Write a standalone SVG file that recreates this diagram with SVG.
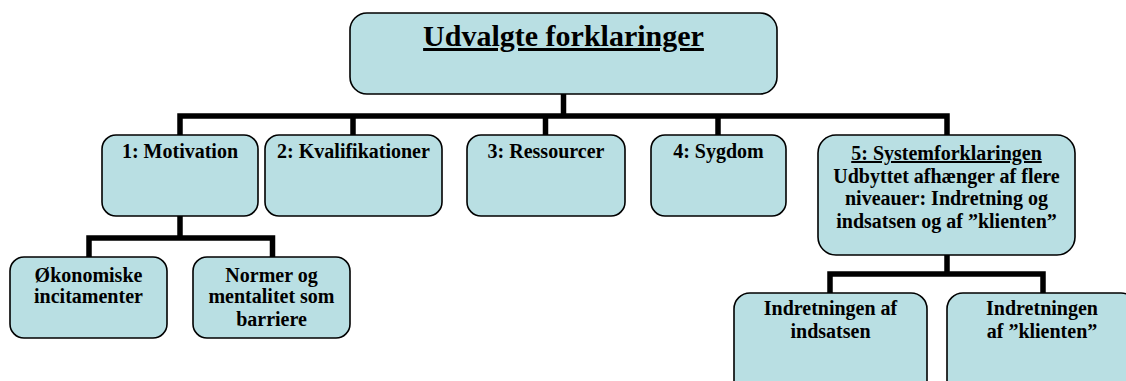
<svg xmlns="http://www.w3.org/2000/svg" width="1126" height="381" viewBox="0 0 1126 381">
<style>
.box{fill:#B9DFE3;stroke:#000;stroke-width:1.6}
.t{font-family:"Liberation Serif","Times New Roman",serif;font-weight:bold;font-size:20px;fill:#000;text-anchor:middle}
.big{font-size:30px}
.u{text-decoration:underline}
.c{fill:none;stroke:#000;stroke-width:5.5;stroke-linejoin:miter;stroke-linecap:butt}
</style>
<rect width="1126" height="381" fill="#fff"/>
<g id="connectors">
<path class="c" d="M563.5,94 V116"/>
<path class="c" d="M180,135 V116 H947 V135"/>
<path class="c" d="M353,116 V135"/>
<path class="c" d="M545.5,116 V135"/>
<path class="c" d="M718,116 V135"/>
<path class="c" d="M180,216 V238"/>
<path class="c" d="M89,257 V238 H272.5 V257"/>
<path class="c" d="M947,255 V274"/>
<path class="c" d="M830,293 V274 H1043 V293"/>
</g>
<g id="root">
<rect class="box" x="350" y="13" width="427" height="81" rx="17"/>
<text class="t big u" x="563.5" y="46">Udvalgte forklaringer</text>
</g>
<g id="motivation">
<rect class="box" x="102" y="135" width="156" height="81" rx="14"/>
<text class="t" x="180" y="158">1: Motivation</text>
</g>
<g id="kvalifikationer">
<rect class="box" x="265" y="135" width="177" height="81" rx="14"/>
<text class="t" x="353.5" y="158">2: Kvalifikationer</text>
</g>
<g id="ressourcer">
<rect class="box" x="467" y="135" width="158" height="81" rx="14"/>
<text class="t" x="546" y="158">3: Ressourcer</text>
</g>
<g id="sygdom">
<rect class="box" x="651" y="135" width="135" height="81" rx="14"/>
<text class="t" x="718.5" y="158">4: Sygdom</text>
</g>
<g id="system">
<rect class="box" x="818" y="135" width="257" height="120" rx="18"/>
<text class="t u" x="946.5" y="160">5: Systemforklaringen</text>
<text class="t" x="946.5" y="182.5">Udbyttet afhænger af flere</text>
<text class="t" x="946.5" y="205">niveauer: Indretning og</text>
<text class="t" x="946.5" y="228">indsatsen og af ”klienten”</text>
</g>
<g id="okonomiske">
<rect class="box" x="10" y="257" width="157" height="81" rx="14"/>
<text class="t" x="88.5" y="281.5">Økonomiske</text>
<text class="t" x="88.5" y="302.5">incitamenter</text>
</g>
<g id="normer">
<rect class="box" x="193" y="257" width="157" height="81" rx="14"/>
<text class="t" x="271.5" y="281.5">Normer og</text>
<text class="t" x="271.5" y="303">mentalitet som</text>
<text class="t" x="271.5" y="325.5">barriere</text>
</g>
<g id="indsatsen">
<rect class="box" x="734" y="293" width="193" height="110" rx="16"/>
<text class="t" x="830.5" y="315">Indretningen af</text>
<text class="t" x="830.5" y="338">indsatsen</text>
</g>
<g id="klienten">
<rect class="box" x="947" y="293" width="190" height="110" rx="16"/>
<text class="t" x="1042" y="315">Indretningen</text>
<text class="t" x="1042" y="338">af ”klienten”</text>
</g>
</svg>
